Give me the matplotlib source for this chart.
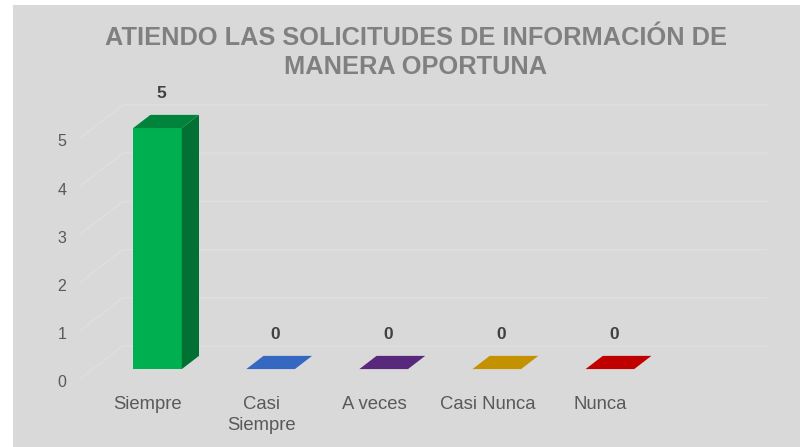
import matplotlib.pyplot as plt
from matplotlib.patches import Polygon

# datos
categorias = ['Siempre', 'Casi\nSiempre', 'A veces', 'Casi Nunca', 'Nunca']
valores = [5, 0, 0, 0, 0]
colores = ['#00B050', '#3568C0', '#58287D', '#C49200', '#C00000']
yticks = [0, 1, 2, 3, 4, 5]
titulo = 'ATIENDO LAS SOLICITUDES DE INFORMACIÓN DE\nMANERA OPORTUNA'

plt.rcParams['font.family'] = ['Liberation Sans', 'DejaVu Sans']

# vector de profundidad (en unidades de datos) para el efecto 3D
DX = 0.380
DY = 0.685
hw = 0.215        # media anchura de barra
d0, d1 = 0.3, 0.7 # profundidad de las barras


def proj(x, y, d):
    return (x + d * DX, y + d * DY)


def sombra(c, f):
    c = c.lstrip('#')
    r, g, b = [int(c[k:k + 2], 16) for k in (0, 2, 4)]
    return (r * f / 255, g * f / 255, b * f / 255)


fig = plt.figure(figsize=(8, 4.47), dpi=100)
fig.patch.set_facecolor('white')
ax = fig.add_axes([13 / 800, 0, 787 / 800, 442 / 447])
ax.set_facecolor('#D9D9D9')
ax.set_xlim(-1.1636, 5.795)
ax.set_ylim(-1.411, 7.759)
ax.axis('off')
ax.add_patch(plt.Rectangle((0, 0), 1, 1, transform=ax.transAxes,
                           facecolor='#D9D9D9', edgecolor='none', zorder=0))

# paredes: lineas de cuadricula
x_izq, x_der = -0.571, 5.12
for v in yticks:
    p0 = proj(x_izq, v, 0)
    p1 = proj(x_izq, v, 1)
    p2 = proj(x_der, v, 1)
    ax.plot([p0[0], p1[0], p2[0]], [p0[1], p1[1], p2[1]],
            color='#DFDFDF', lw=1.0, zorder=1)
    ax.text(-0.73, v - 0.08, str(v), ha='center', va='center',
            fontsize=11.5, color='#595959')

# barras
for i, (v, c) in enumerate(zip(valores, colores)):
    if v > 0:
        frente = [proj(i - hw, 0, d0), proj(i + hw, 0, d0),
                  proj(i + hw, v, d0), proj(i - hw, v, d0)]
        lado = [proj(i + hw, 0, d0), proj(i + hw, 0, d1),
                proj(i + hw, v, d1), proj(i + hw, v, d0)]
        ax.add_patch(Polygon(frente, closed=True, facecolor=c,
                             edgecolor='none', zorder=3))
        ax.add_patch(Polygon(lado, closed=True, facecolor=sombra(c, 0.64),
                             edgecolor='none', zorder=3))
        ctop = sombra(c, 0.75)
    else:
        ctop = c
    arriba = [proj(i - hw, v, d0), proj(i + hw, v, d0),
              proj(i + hw, v, d1), proj(i - hw, v, d1)]
    ax.add_patch(Polygon(arriba, closed=True, facecolor=ctop,
                         edgecolor='none', zorder=3))
    lx, ly = proj(i, v, 0.4)
    ax.text(lx, ly + 0.65, str(v), ha='center', va='center',
            fontsize=12.5, fontweight='bold', color='#404040', zorder=4)

# etiquetas de categoria
for i, cat in enumerate(categorias):
    ax.text(i + 0.03, -0.35, cat, ha='center', va='top', fontsize=13.3,
            color='#595959', linespacing=1.3)

ax.text(2.4, 6.77, titulo, ha='center', va='center', fontsize=18.3,
        fontweight='bold', color='#808080', linespacing=1.25)

fig.savefig('out.png', dpi=100, facecolor=fig.get_facecolor())
